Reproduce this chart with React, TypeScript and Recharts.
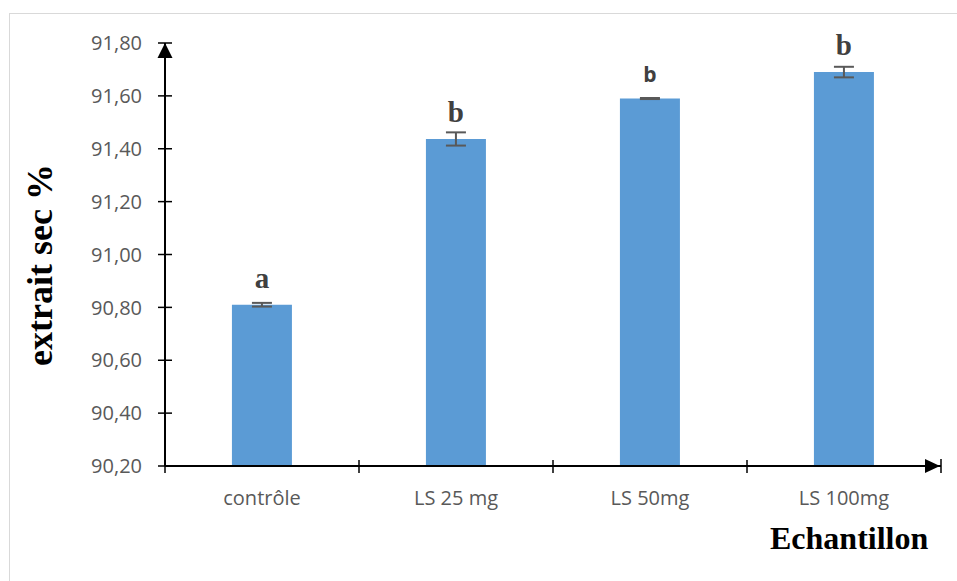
import React from 'react';
import { BarChart, Bar, XAxis, YAxis, ErrorBar, LabelList } from 'recharts';

const categories = ['contrôle', 'LS 25 mg', 'LS 50mg', 'LS 100mg'];
const means = [90.81, 91.437, 91.59, 91.69];
const errors = [0.007, 0.025, 0.002, 0.02];
const letters = ['a', 'b', 'b', 'b'];
const letterSans = [false, false, true, false];
const yTicks = [90.2, 90.4, 90.6, 90.8, 91.0, 91.2, 91.4, 91.6, 91.8];

const data = categories.map((c, i) => ({
  name: c,
  value: means[i],
  err: errors[i],
  letter: letters[i],
  sans: letterSans[i],
}));

const W = 957;
const H = 581;
const PLOT_LEFT = 165;
const PLOT_RIGHT = 941;
const PLOT_TOP = 43;
const PLOT_BOTTOM = 466;
const BAND = (PLOT_RIGHT - PLOT_LEFT) / categories.length;

const fmt = (v: number) => v.toFixed(2).replace('.', ',');

const YTick = (props: any) => {
  const { x, y, payload } = props;
  return (
    <g>
      <line x1={x - 7} x2={x + 7} y1={y} y2={y} stroke="#000" strokeWidth={1.5} />
      <text x={x - 23} y={y} dy="0.36em" textAnchor="end" fill="#595959" fontSize={20} fontFamily="'Open Sans', sans-serif">
        {fmt(payload.value)}
      </text>
    </g>
  );
};

const XTick = (props: any) => {
  const { x, y, payload, index } = props;
  const last = index === categories.length - 1;
  return (
    <g>
      <line x1={x - BAND / 2} x2={x - BAND / 2} y1={y - 6} y2={y + 7} stroke="#000" strokeWidth={1.5} />
      {last && <line x1={x + BAND / 2} x2={x + BAND / 2} y1={y - 7} y2={y + 7} stroke="#000" strokeWidth={1.5} />}
      <text x={x} y={y + 39} textAnchor="middle" fill="#595959" fontSize={20} fontFamily="'Open Sans', sans-serif">
        {payload.value}
      </text>
    </g>
  );
};

const LetterLabel = (props: any) => {
  const { x, y, width, index } = props;
  const d = data[index];
  const sans = d.sans;
  return (
    <text
      x={x + width / 2}
      y={y - 17}
      textAnchor="middle"
      fill="#404040"
      fontWeight="bold"
      fontSize={sans ? 21 : 29}
      fontFamily={sans ? "'Open Sans', sans-serif" : "'Liberation Serif', 'Times New Roman', serif"}
    >
      {d.letter}
    </text>
  );
};

export default function App() {
  return (
    <div style={{ position: 'absolute', left: 0, top: 0, width: W, height: H, background: '#fff', overflow: 'hidden' }}>
      <div style={{ position: 'absolute', left: 9, top: 13, width: 980, height: 620, border: '1px solid #d9d9d9', boxSizing: 'border-box' }} />
      <div style={{ position: 'absolute', left: 0, top: 0 }}>
        <BarChart
          width={W}
          height={H}
          data={data}
          margin={{ top: PLOT_TOP, right: W - PLOT_RIGHT, bottom: H - PLOT_BOTTOM - 40, left: PLOT_LEFT - 80 }}
          barCategoryGap="34.5%"
        >
          <XAxis
            dataKey="name"
            height={40}
            tickSize={0}
            tickMargin={0}
            tick={<XTick />}
            axisLine={{ stroke: '#000', strokeWidth: 2 }}
            tickLine={false}
            interval={0}
          />
          <YAxis
            width={80}
            domain={[90.2, 91.8]}
            ticks={yTicks}
            allowDataOverflow
            tickSize={0}
            tickMargin={0}
            tick={<YTick />}
            axisLine={{ stroke: '#000', strokeWidth: 2 }}
            tickLine={false}
            interval={0}
          />
          <Bar dataKey="value" fill="#5B9BD5" isAnimationActive={false}>
            <ErrorBar dataKey="err" width={10} stroke="#595959" strokeWidth={2} />
            <LabelList dataKey="letter" content={<LetterLabel />} />
          </Bar>
        </BarChart>
      </div>
      <svg width={W} height={H} style={{ position: 'absolute', left: 0, top: 0, pointerEvents: 'none' }}>
        <polygon points={`${PLOT_LEFT},${PLOT_TOP} ${PLOT_LEFT - 7.5},${PLOT_TOP + 15} ${PLOT_LEFT + 7.5},${PLOT_TOP + 15}`} fill="#000" />
        <polygon points={`${PLOT_RIGHT - 1},${PLOT_BOTTOM} ${PLOT_RIGHT - 16},${PLOT_BOTTOM - 7} ${PLOT_RIGHT - 16},${PLOT_BOTTOM + 7}`} fill="#000" />
        <text
          transform={`translate(52, 265) rotate(-90)`}
          textAnchor="middle"
          fontSize={36}
          fontWeight="bold"
          fill="#000"
          fontFamily="'Liberation Serif', 'Times New Roman', serif"
        >
          extrait sec %
        </text>
        <text x={770} y={549} fontSize={32} fontWeight="bold" fill="#000" fontFamily="'Liberation Serif', 'Times New Roman', serif">
          Echantillon
        </text>
      </svg>
    </div>
  );
}
